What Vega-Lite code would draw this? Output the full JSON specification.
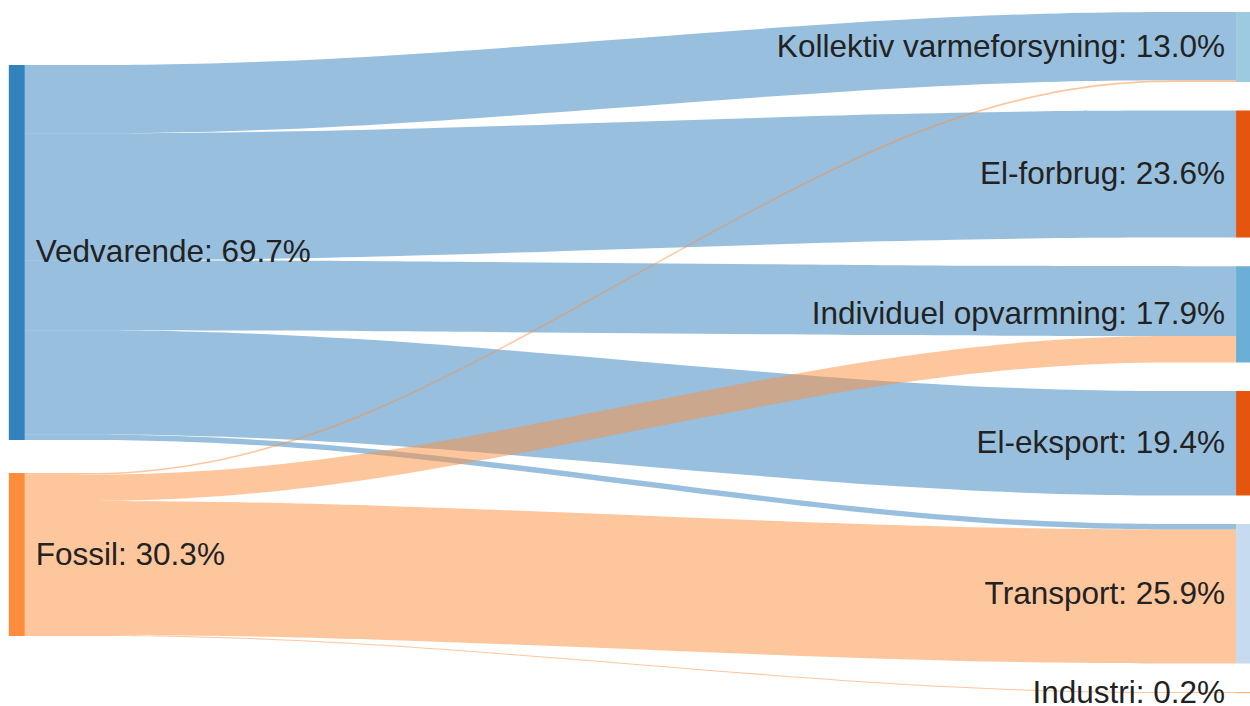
{
  "$schema": "https://vega.github.io/schema/vega-lite/v6.json",
  "width": 1250,
  "height": 706,
  "autosize": {"type": "none"},
  "padding": 0,
  "background": "white",
  "config": {"view": {"stroke": null}},
  "datasets": {
    "links": [
      {"link": "V-K", "source": "Vedvarende", "target": "Kollektiv varmeforsyning", "stage": 0, "top": 9.85, "bottom": 22.55},
      {"link": "V-K", "source": "Vedvarende", "target": "Kollektiv varmeforsyning", "stage": 0.25, "top": 9.85, "bottom": 22.55},
      {"link": "V-K", "source": "Vedvarende", "target": "Kollektiv varmeforsyning", "stage": 0.75, "top": 0, "bottom": 12.7},
      {"link": "V-K", "source": "Vedvarende", "target": "Kollektiv varmeforsyning", "stage": 1, "top": 0, "bottom": 12.7},
      {"link": "V-EF", "source": "Vedvarende", "target": "El-forbrug", "stage": 0, "top": 22.55, "bottom": 46.15},
      {"link": "V-EF", "source": "Vedvarende", "target": "El-forbrug", "stage": 0.25, "top": 22.55, "bottom": 46.15},
      {"link": "V-EF", "source": "Vedvarende", "target": "El-forbrug", "stage": 0.75, "top": 18.32, "bottom": 41.92},
      {"link": "V-EF", "source": "Vedvarende", "target": "El-forbrug", "stage": 1, "top": 18.32, "bottom": 41.92},
      {"link": "V-I", "source": "Vedvarende", "target": "Individuel opvarmning", "stage": 0, "top": 46.15, "bottom": 59.15},
      {"link": "V-I", "source": "Vedvarende", "target": "Individuel opvarmning", "stage": 0.25, "top": 46.15, "bottom": 59.15},
      {"link": "V-I", "source": "Vedvarende", "target": "Individuel opvarmning", "stage": 0.75, "top": 47.24, "bottom": 60.24},
      {"link": "V-I", "source": "Vedvarende", "target": "Individuel opvarmning", "stage": 1, "top": 47.24, "bottom": 60.24},
      {"link": "V-EE", "source": "Vedvarende", "target": "El-eksport", "stage": 0, "top": 59.15, "bottom": 78.55},
      {"link": "V-EE", "source": "Vedvarende", "target": "El-eksport", "stage": 0.25, "top": 59.15, "bottom": 78.55},
      {"link": "V-EE", "source": "Vedvarende", "target": "El-eksport", "stage": 0.75, "top": 70.46, "bottom": 89.86},
      {"link": "V-EE", "source": "Vedvarende", "target": "El-eksport", "stage": 1, "top": 70.46, "bottom": 89.86},
      {"link": "V-T", "source": "Vedvarende", "target": "Transport", "stage": 0, "top": 78.55, "bottom": 79.55},
      {"link": "V-T", "source": "Vedvarende", "target": "Transport", "stage": 0.25, "top": 78.55, "bottom": 79.55},
      {"link": "V-T", "source": "Vedvarende", "target": "Transport", "stage": 0.75, "top": 95.18, "bottom": 96.18},
      {"link": "V-T", "source": "Vedvarende", "target": "Transport", "stage": 1, "top": 95.18, "bottom": 96.18},
      {"link": "F-K", "source": "Fossil", "target": "Kollektiv varmeforsyning", "stage": 0, "top": 85.69, "bottom": 85.99},
      {"link": "F-K", "source": "Fossil", "target": "Kollektiv varmeforsyning", "stage": 0.25, "top": 85.69, "bottom": 85.99},
      {"link": "F-K", "source": "Fossil", "target": "Kollektiv varmeforsyning", "stage": 0.75, "top": 12.7, "bottom": 13.0},
      {"link": "F-K", "source": "Fossil", "target": "Kollektiv varmeforsyning", "stage": 1, "top": 12.7, "bottom": 13.0},
      {"link": "F-I", "source": "Fossil", "target": "Individuel opvarmning", "stage": 0, "top": 85.99, "bottom": 90.89},
      {"link": "F-I", "source": "Fossil", "target": "Individuel opvarmning", "stage": 0.25, "top": 85.99, "bottom": 90.89},
      {"link": "F-I", "source": "Fossil", "target": "Individuel opvarmning", "stage": 0.75, "top": 60.24, "bottom": 65.14},
      {"link": "F-I", "source": "Fossil", "target": "Individuel opvarmning", "stage": 1, "top": 60.24, "bottom": 65.14},
      {"link": "F-T", "source": "Fossil", "target": "Transport", "stage": 0, "top": 90.89, "bottom": 115.79},
      {"link": "F-T", "source": "Fossil", "target": "Transport", "stage": 0.25, "top": 90.89, "bottom": 115.79},
      {"link": "F-T", "source": "Fossil", "target": "Transport", "stage": 0.75, "top": 96.18, "bottom": 121.08},
      {"link": "F-T", "source": "Fossil", "target": "Transport", "stage": 1, "top": 96.18, "bottom": 121.08},
      {"link": "F-Ind", "source": "Fossil", "target": "Industri", "stage": 0, "top": 115.79, "bottom": 115.99},
      {"link": "F-Ind", "source": "Fossil", "target": "Industri", "stage": 0.25, "top": 115.79, "bottom": 115.99},
      {"link": "F-Ind", "source": "Fossil", "target": "Industri", "stage": 0.75, "top": 126.4, "bottom": 126.6},
      {"link": "F-Ind", "source": "Fossil", "target": "Industri", "stage": 1, "top": 126.4, "bottom": 126.6}
    ],
    "nodes": [
      {"name": "Vedvarende", "col": 0, "top": 9.85, "bottom": 79.55, "label": "Vedvarende: 69.7%"},
      {"name": "Fossil", "col": 0, "top": 85.69, "bottom": 115.99, "label": "Fossil: 30.3%"},
      {"name": "Kollektiv varmeforsyning", "col": 1, "top": 0, "bottom": 13.0, "label": "Kollektiv varmeforsyning: 13.0%"},
      {"name": "El-forbrug", "col": 1, "top": 18.32, "bottom": 41.92, "label": "El-forbrug: 23.6%"},
      {"name": "Individuel opvarmning", "col": 1, "top": 47.24, "bottom": 65.14, "label": "Individuel opvarmning: 17.9%"},
      {"name": "El-eksport", "col": 1, "top": 70.46, "bottom": 89.86, "label": "El-eksport: 19.4%"},
      {"name": "Transport", "col": 1, "top": 95.18, "bottom": 121.08, "label": "Transport: 25.9%"},
      {"name": "Industri", "col": 1, "top": 126.4, "bottom": 126.6, "label": "Industri: 0.2%"}
    ]
  },
  "layer": [
    {
      "data": {"name": "links"},
      "mark": {"type": "area", "interpolate": "basis", "opacity": 0.5},
      "encoding": {
        "x": {"field": "stage", "type": "quantitative", "axis": null, "scale": {"domain": [-0.016355, 1.007371], "nice": false, "zero": false}},
        "y": {"field": "top", "type": "quantitative", "axis": null, "stack": null, "scale": {"domain": [-2.2305, 128.996], "reverse": true, "nice": false, "zero": false}},
        "y2": {"field": "bottom"},
        "color": {"field": "source", "type": "nominal", "legend": null,
          "scale": {"domain": ["Vedvarende", "Fossil", "Kollektiv varmeforsyning", "El-forbrug", "Individuel opvarmning", "El-eksport", "Transport", "Industri"],
                    "range": ["#3182bd", "#fd8d3c", "#9ecae1", "#e6550d", "#6baed6", "#e6550d", "#c6dbef", "#fdae6b"]}},
        "detail": {"field": "link"}
      }
    },
    {
      "data": {"name": "nodes"},
      "transform": [{"filter": {"field": "col", "equal": 0}}],
      "mark": {"type": "bar", "size": 16, "xOffset": -8},
      "encoding": {
        "x": {"field": "col", "type": "quantitative", "axis": null, "scale": {"domain": [-0.016355, 1.007371], "nice": false, "zero": false}},
        "y": {"field": "top", "type": "quantitative", "axis": null, "stack": null, "scale": {"domain": [-2.2305, 128.996], "reverse": true, "nice": false, "zero": false}},
        "y2": {"field": "bottom"},
        "color": {"field": "name", "type": "nominal", "legend": null}
      }
    },
    {
      "data": {"name": "nodes"},
      "transform": [{"filter": {"field": "col", "equal": 1}}],
      "mark": {"type": "bar", "size": 16, "xOffset": 8},
      "encoding": {
        "x": {"field": "col", "type": "quantitative", "axis": null, "scale": {"domain": [-0.016355, 1.007371], "nice": false, "zero": false}},
        "y": {"field": "top", "type": "quantitative", "axis": null, "stack": null, "scale": {"domain": [-2.2305, 128.996], "reverse": true, "nice": false, "zero": false}},
        "y2": {"field": "bottom"},
        "color": {"field": "name", "type": "nominal", "legend": null}
      }
    },
    {
      "data": {"name": "nodes"},
      "transform": [
        {"filter": {"field": "col", "equal": 0}},
        {"fold": ["top", "bottom"], "as": ["edge", "pos"]}
      ],
      "mark": {"type": "text", "align": "left", "baseline": "middle", "dx": 11, "dy": 1, "font": "Liberation Sans", "fontSize": 31.5, "color": "#222222"},
      "encoding": {
        "x": {"field": "col", "type": "quantitative", "axis": null, "scale": {"domain": [-0.016355, 1.007371], "nice": false, "zero": false}},
        "y": {"field": "pos", "aggregate": "mean", "type": "quantitative", "axis": null, "scale": {"domain": [-2.2305, 128.996], "reverse": true, "nice": false, "zero": false}},
        "text": {"field": "label", "type": "nominal"}
      }
    },
    {
      "data": {"name": "nodes"},
      "transform": [
        {"filter": {"field": "col", "equal": 1}},
        {"fold": ["top", "bottom"], "as": ["edge", "pos"]}
      ],
      "mark": {"type": "text", "align": "right", "baseline": "middle", "dx": -11, "dy": 1, "font": "Liberation Sans", "fontSize": 31.5, "color": "#222222"},
      "encoding": {
        "x": {"field": "col", "type": "quantitative", "axis": null, "scale": {"domain": [-0.016355, 1.007371], "nice": false, "zero": false}},
        "y": {"field": "pos", "aggregate": "mean", "type": "quantitative", "axis": null, "scale": {"domain": [-2.2305, 128.996], "reverse": true, "nice": false, "zero": false}},
        "text": {"field": "label", "type": "nominal"}
      }
    }
  ]
}
